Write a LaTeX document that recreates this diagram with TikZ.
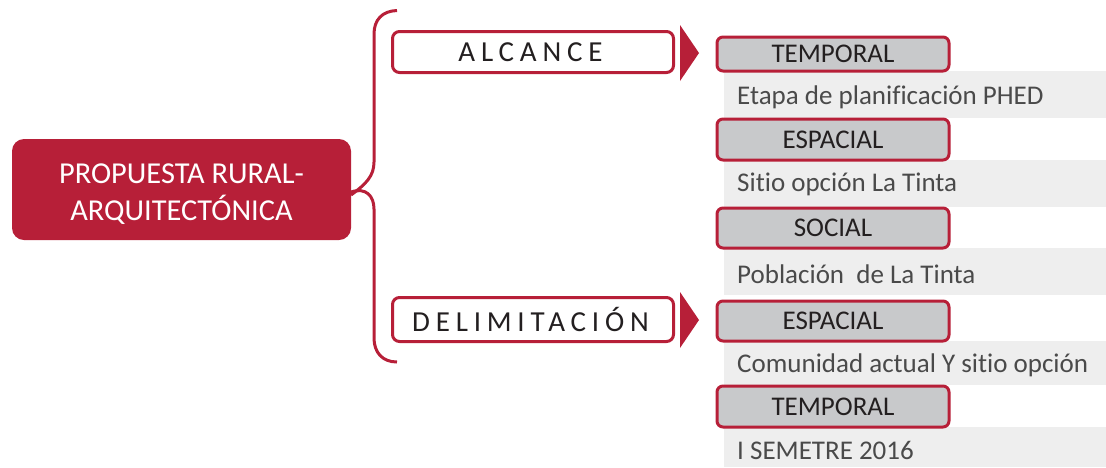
\documentclass[tikz,border=0pt]{standalone}
\usepackage{fontspec}
\setmainfont[Ligatures=NoCommon]{Carlito}
\definecolor{brand}{HTML}{B71F38}
\definecolor{labelgray}{HTML}{C8C9CB}
\definecolor{bandgray}{HTML}{EEEEEE}
\definecolor{inktext}{HTML}{4A4A4A}
\definecolor{darkink}{HTML}{231F20}
\tikzset{
  box/.style={rectangle,anchor=north west,inner sep=0pt,outer sep=0pt},
  mainbox/.style={box,fill=brand,rounded corners=12pt,text=white,font=\fontsize{30.4}{37}\selectfont,align=center},
  headbox/.style={box,draw=brand,line width=3pt,fill=white,rounded corners=7pt,text=darkink,font=\fontsize{29}{34}\selectfont},
  tagbox/.style={box,draw=brand,line width=3pt,fill=labelgray,rounded corners=6pt,text=darkink,font=\fontsize{27}{32}\selectfont},
  band/.style={box,fill=bandgray},
  bandtext/.style={anchor=base west,text=inktext,font=\fontsize{27}{32}\selectfont,inner sep=0pt},
  wedge/.style={fill=brand,draw=none},
  brace/.style={draw=brand,line width=3pt,line cap=butt}
}
\newcommand{\spaced}[1]{\addfontfeatures{LetterSpace=20}\hspace*{-5pt}#1}
\newcommand{\lowered}[1]{\raisebox{-1pt}{#1}}
\begin{document}
\begin{tikzpicture}[x=1pt,y=-1pt]
\useasboundingbox (0,0) rectangle (1106,467);
% gray bands
\node[band,minimum width=382pt,minimum height=47pt] (b1) at (724,71) {};
\node[band,minimum width=382pt,minimum height=47pt] (b2) at (724,160) {};
\node[band,minimum width=382pt,minimum height=47pt] (b3) at (724,248) {};
\node[band,minimum width=382pt,minimum height=44pt] (b4) at (724,341) {};
\node[band,minimum width=382pt,minimum height=40pt] (b5) at (724,427) {};
\node[bandtext] (t1) at (737,104) {Etapa de planificación PHED};
\node[bandtext] (t2) at (737,191) {Sitio opción La Tinta};
\node[bandtext] (t3) at (737,283) {Población\ \ de La Tinta};
\node[bandtext] (t4) at (737,372) {Comunidad actual Y sitio opción};
\node[bandtext] (t5) at (737,459) {I SEMETRE 2016};
% tag boxes
\node[tagbox,minimum width=232pt,minimum height=34pt] (g1) at (717,37) {TEMPORAL};
\node[tagbox,minimum width=232pt,minimum height=41pt] (g2) at (717,119) {\lowered{ESPACIAL}};
\node[tagbox,minimum width=232pt,minimum height=40pt] (g3) at (717,208) {\lowered{SOCIAL}};
\node[tagbox,minimum width=232pt,minimum height=40pt] (g4) at (717,301) {\lowered{ESPACIAL}};
\node[tagbox,minimum width=232pt,minimum height=41pt] (g5) at (717,386) {TEMPORAL};
% main
\node[mainbox,minimum width=339pt,minimum height=101pt] (main) at (12,139) {\rule{0pt}{30pt}PROPUESTA RURAL-\\ARQUITECTÓNICA};
% heads
\node[headbox,minimum width=281pt,minimum height=41pt] (alc) at (392.5,31.5) {\spaced{ALCANCE}};
\node[headbox,minimum width=281pt,minimum height=44pt] (del) at (392.5,297.5) {\spaced{DELIMITACIÓN}};
% wedges
\draw[wedge] (680,25) -- (699,53) -- (680,81) -- cycle;
\draw[wedge] (680,292) -- (699,320) -- (680,348) -- cycle;
% bracket
\coordinate (tipup) at (397,10.5);
\coordinate (tipdown) at (397,362);
\draw[brace] (tipup) .. controls (382,11) and (374,20) .. (374,34) -- (374,162)
  .. controls (374,176) and (366,184) .. ([yshift=-5.5pt]main.east);
\draw[brace] ([yshift=-2.5pt]main.east) .. controls (366,187) and (374,196) .. (374,209) -- (374,338)
  .. controls (374,352) and (382,362) .. (tipdown);
\end{tikzpicture}
\end{document}
